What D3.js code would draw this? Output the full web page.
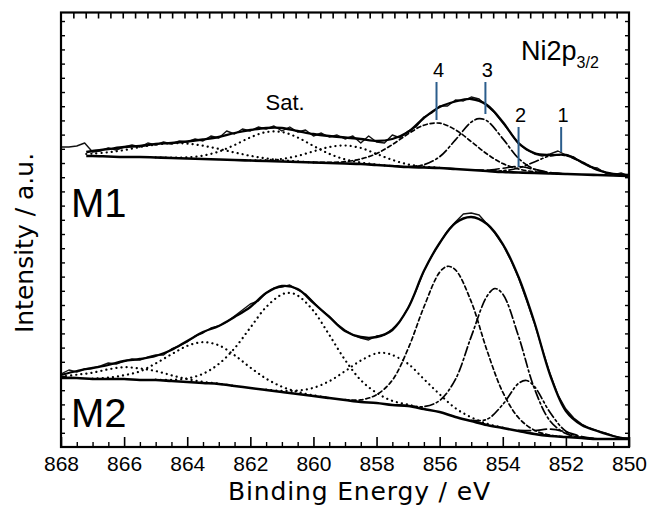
<!DOCTYPE html>
<html>
<head>
<meta charset="utf-8">
<script src="https://cdn.jsdelivr.net/npm/d3@7"></script>
<style>
  body { margin: 0; background: #fff; }
  svg text { font-family: "Liberation Sans", Arial, sans-serif; fill: #000; }
  .title { font-family: "DejaVu Sans", sans-serif; }
</style>
</head>
<body>
<div id="chart"></div>
<script>
// x axis tick labels (binding energy, eV)
const majorTicks = [868, 866, 864, 862, 860, 858, 856, 854, 852, 850]

// ---------- M1 (top spectrum), [eV, intensity a.u.] ----------
const m1Raw = [[868,300],[867.75,300],[867.5,301],[867.25,304],[867,295],[866.75,296],[866.5,299],[866.25,297],
  [866,300],[865.75,302],[865.5,300],[865.25,304],[865,302],[864.75,305],[864.5,303],[864.25,306],[864,305],
  [863.75,308],[863.5,306],[863.25,311],[863,309],[862.75,316],[862.5,313],[862.25,318],[862,316],[861.75,320],
  [861.5,318],[861.25,321],[861,316],[860.75,320],[860.5,315],[860.25,317],[860,311],[859.75,314],[859.5,310],
  [859.25,312],[859,308],[858.75,311],[858.5,304],[858.25,311],[858,305],[857.75,304],[857.5,312],[857.25,309],
  [857,316],[856.75,320],[856.5,330],[856.25,334],[856,341],[855.75,341],[855.5,347],[855.25,346],[855,350],
  [854.75,348],[854.5,341],[854.25,334],[854,324],[853.75,314],[853.5,303],[853.25,297],[853,293],[852.75,291],
  [852.5,293],[852.25,296],[852,292],[851.75,290],[851.5,284],[851.25,280],[851,279],[850.75,274],[850.5,272],
  [850.25,274],[850,271]]
const m1Fit = [[867.2,295],[867,296],[866.5,298],[866,300],[865.5,301],[865,303],[864.5,304],[864,305.5],
  [863.5,307.5],[863,310],[862.5,314],[862,317],[861.5,319],[861,319],[860.5,316],[860,313],[859.5,311],
  [859,309.5],[858.5,308],[858,306],[857.5,308],[857,315],[856.5,329],[856,340],[855.5,345.5],[855,348],
  [854.5,342],[854,325],[853.5,304],[853,294],[852.5,292],[852,292],[851.5,285],[851,277],[850.5,273],[850,272]]
const m1Bg = [[867.2,291],[867,291],[866.5,290.5],[866,290],[865.5,290],[865,289.5],[864.5,289],[864,288.5],
  [863.5,288],[863,287.5],[862.5,287],[862,286.5],[861.5,286],[861,285.5],[860.5,285],[860,284.5],[859.5,284],
  [859,283.5],[858.5,283],[858,282],[857.5,281],[857,280],[856.5,279.5],[856,279],[855.5,278],[855,277],
  [854.5,276],[854,275],[853.5,274.5],[853,274],[852.5,273.5],[852,273],[851.5,272.5],[851,272],[850.5,271.5],[850,271]]
const m1SatA = [[867.2,293],[867,293.3],[866.5,294.7],[866,296.9],[865.5,300],[865,302.4],[864.5,303.7],
  [864,303.4],[863.5,301.3],[863,298.1],[862.5,294.5],[862,291.2],[861.5,288.6],[861,286.8],[860.5,285.6],[860,284.6]]
const m1SatB = [[865,289.6],[864.5,289.3],[864,289.7],[863.5,291.4],[863,295.4],[862.5,302],[862,309.6],
  [861.5,314.9],[861,315],[860.5,309.5],[860,301.1],[859.5,293.2],[859,287.6],[858.5,284.5],[858,282.5],[857.5,281]]
const m1SatC = [[862,286.7],[861.5,286.9],[861,288.1],[860.5,291.1],[860,295.6],[859.5,300],[859,301.5],
  [858.5,299],[858,293.1],[857.5,287.1],[857,282.6],[856.5,280.4],[856,279.2]]
const m1Peak4 = [[860,284.6],[859.5,284.6],[859,285.3],[858.5,288],[858,293.4],[857.5,302.4],[857,313.1],
  [856.5,321.8],[856,323.8],[855.5,317.2],[855,305.4],[854.5,293],[854,283.4],[853.5,278],[853,275.2],[852.5,273.8],[852,273]]
const m1Peak3 = [[857,280.4],[856.5,282.3],[856,290.3],[855.5,307.1],[855,324.9],[854.75,328.3],[854.5,326.1],
  [854,308.4],[853.5,288.6],[853,277.8],[852.5,274.2],[852,273]]
const m1Peak2 = [[855,277],[854.5,276.9],[854,278.7],[853.5,280.5],[853,277.7],[852.5,274.4],[852,273]]
const m1Peak1 = [[854.5,276.2],[854,276.2],[853.5,279],[853,285],[852.5,291.1],[852,291.4],[851.5,285],
  [851,277.5],[850.5,273.1],[850,271.3]]

// ---------- M2 (bottom spectrum) ----------
const m2Raw = [[868,73],[867.75,77],[867.5,75],[867.25,78],[867,79],[866.75,81],[866.5,84],[866.25,83],[866,86],
  [865.75,88],[865.5,87],[865.25,90],[865,92],[864.75,92],[864.5,98],[864.25,101],[864,105],[863.75,111],
  [863.5,114],[863.25,119],[863,121],[862.75,125],[862.5,131],[862.25,137],[862,143],[861.75,146],[861.5,154],
  [861.25,159],[861,160],[860.75,162],[860.5,157],[860.25,153],[860,145],[859.75,137],[859.5,131],[859.25,123],
  [859,117],[858.75,112],[858.5,109],[858.25,107],[858,111],[857.75,112],[857.5,118],[857.25,126],[857,139],
  [856.75,156],[856.5,176],[856.25,191],[856,204],[855.75,216],[855.5,225],[855.25,233],[855,234],[854.75,232],
  [854.5,223],[854.25,214],[854,202],[853.75,187],[853.5,169],[853.25,147],[853,124],[852.75,98],[852.5,73],
  [852.25,52],[852,38],[851.75,29],[851.5,23],[851.25,19],[851,16],[850.75,14],[850.5,11],[850.25,9],[850,9]]
const m2Fit = [[868,72],[867.5,76],[867,79],[866.5,82],[866,86],[865.5,88],[865,91],[864.5,97],[864,106],
  [863.5,115],[863,121],[862.5,130],[862,140],[861.5,154],[861,161],[860.5,158],[860,144],[859.5,130],[859,116],
  [858.5,110],[858,110],[857.5,117],[857,139],[856.5,176],[856,204],[855.5,224],[855,230],[854.5,223],[854,203],
  [853.5,170],[853,125],[852.5,72],[852,36],[851.5,22],[851,16],[850.5,11],[850,8]]
const m2Bg = [[868,69],[867.5,69],[867,68],[866.5,68],[866,68],[865.5,67],[865,67],[864.5,66],[864,65],
  [863.5,64],[863,63],[862.5,61],[862,59],[861.5,57],[861,55],[860.5,53],[860,51],[859.5,49],[859,47],
  [858.5,45],[858,44],[857.5,42],[857,41],[856.5,38],[856,35],[855.5,30],[855,26],[854.5,22],[854,19],
  [853.5,16],[853,13],[852.5,11],[852,10],[851.5,9],[851,8],[850.5,8],[850,8]]
const m2SatA = [[868,70.4],[867.5,72.3],[867,74.3],[866.5,77.7],[866,79.8],[865.5,78.5],[865,76],[864.5,71.7],
  [864,67.9],[863.5,65.2],[863,63.4],[862.5,61]]
const m2SatB = [[867,68.4],[866.5,69.4],[866,71.8],[865.5,75.6],[865,83.6],[864.5,92.7],[864,101.1],[863.5,104.8],
  [863,101.7],[862.5,91.8],[862,79.5],[861.5,68.4],[861,60.3],[860.5,55.1],[860,51.7],[859.5,49]]
const m2SatC = [[865,67.4],[864.5,67.2],[864,68.6],[863.5,73.2],[863,83.1],[862.5,98.7],[862,119.4],[861.5,139.9],
  [861,152.6],[860.75,154],[860.5,151.5],[860,136.2],[859.5,112.2],[859,87.2],[858.5,66.9],[858,54.2],[857.5,46.1],
  [857,42.4],[856.5,38.4]]
const m2SatD = [[861.5,57.3],[861,56.2],[860.5,56.4],[860,59.2],[859.5,65.8],[859,75.8],[858.5,86.4],[858,93.7],
  [857.75,94],[857.5,92],[857,83.2],[856.5,67.9],[856,52.7],[855.5,38.8],[855,29.7],[854.5,23.3],[854,19.4]]
const m2Peak4 = [[859,47.4],[858.5,47.1],[858,52.3],[857.5,66.8],[857,98.3],[856.5,140],[856,174.8],[855.75,180.7],
  [855.5,177.2],[855,145.4],[854.5,96.5],[854,54.8],[853.5,29.2],[853,16.8],[852.5,11.8],[852,10]]
const m2Peak3 = [[857,41.3],[856.5,40.4],[856,46.5],[855.5,67.7],[855,110.4],[854.5,150.8],[854.25,158.5],
  [854,152.9],[853.5,110.7],[853,58.7],[852.5,26],[852,13.4],[851.5,9.5],[851,8]]
const m2Peak2 = [[855,26.7],[854.5,27.7],[854,42.5],[853.5,63.6],[853.25,66.5],[853,60.6],[852.5,34.5],[852,15.7],
  [851.5,9.7],[851,8]]
const m2Peak1 = [[853.5,16.7],[853,16.5],[852.5,17.9],[852,15.1],[851.5,10.5],[851,8.2],[850.5,8]]

// peak markers on M1: name, energy, marker line from / to (intensity)
const peakNames = ["1", "2", "3", "4"]
const peakEnergies = [852.15, 853.5, 854.55, 856.1]
const peakLineTop = [320, 320, 365, 365]
const peakLineBottom = [295, 280, 333, 327]

const width = 648, height = 507
const margin = {top: 12.5, right: 19, bottom: 60, left: 61}

const x = d3.scaleLinear().domain([868, 850]).range([margin.left, width - margin.right])
const y = d3.scaleLinear().domain([0, 434.5]).range([height - margin.bottom, margin.top])

const svg = d3.select("#chart").append("svg")
  .attr("width", width).attr("height", height)

svg.append("clipPath").attr("id", "plot")
  .append("rect")
  .attr("x", x(868)).attr("y", y(434.5))
  .attr("width", x(850) - x(868)).attr("height", y(0) - y(434.5))

const line = d3.line().x(d => x(d[0])).y(d => y(d[1])).curve(d3.curveCatmullRom)
const rawLine = d3.line().x(d => x(d[0])).y(d => y(d[1]))

const g = svg.append("g").attr("clip-path", "url(#plot)")

// fitted components
const dotted = {dash: "0.1,5", w: 2.2}
const shortDash = {dash: "4,3", w: 1.7}
const dashDot = {dash: "9,3,2,3", w: 1.7}
const dashDotDot = {dash: "9,3,2,3,2,3", w: 1.7}
const longDash = {dash: "12,4", w: 1.7}

const comps = [
  [m1SatA, dotted], [m1SatB, dotted], [m1SatC, dotted], [m1Peak4, shortDash],
  [m1Peak3, dashDot], [m1Peak2, longDash], [m1Peak1, dashDotDot],
  [m2SatA, dotted], [m2SatB, dotted], [m2SatC, dotted], [m2SatD, dotted],
  [m2Peak4, shortDash], [m2Peak3, dashDot], [m2Peak2, dashDotDot], [m2Peak1, longDash]
]
g.selectAll("path.comp")
  .data(comps)
  .join("path")
  .attr("class", "comp")
  .attr("d", d => line(d[0]))
  .attr("fill", "none")
  .attr("stroke", "#000")
  .attr("stroke-width", d => d[1].w)
  .attr("stroke-dasharray", d => d[1].dash)
  .attr("stroke-linecap", "round")

// backgrounds
g.selectAll("path.bg")
  .data([m1Bg, m2Bg])
  .join("path")
  .attr("class", "bg")
  .attr("d", line)
  .attr("fill", "none")
  .attr("stroke", "#000")
  .attr("stroke-width", 2.6)

// measured data
g.selectAll("path.raw")
  .data([m1Raw, m2Raw])
  .join("path")
  .attr("class", "raw")
  .attr("d", rawLine)
  .attr("fill", "none")
  .attr("stroke", "#111")
  .attr("stroke-width", 1.4)
  .attr("stroke-linejoin", "round")

// envelopes
g.selectAll("path.fit")
  .data([m1Fit, m2Fit])
  .join("path")
  .attr("class", "fit")
  .attr("d", line)
  .attr("fill", "none")
  .attr("stroke", "#000")
  .attr("stroke-width", 2.3)

// axes
const minorTicks = d3.range(850, 868.01, 0.5).filter(v => v % 2 !== 0)

svg.append("g")
  .attr("transform", `translate(0,${y(0)})`)
  .call(d3.axisBottom(x).tickValues(majorTicks).tickSizeInner(-10).tickSizeOuter(0)
    .tickPadding(9).tickFormat(d3.format("d")))
  .call(a => a.select(".domain").remove())
  .call(a => a.selectAll("line").attr("stroke-width", 1.6))
  .call(a => a.selectAll("text").attr("font-size", 21)
    .attr("font-family", "'Liberation Sans', Arial, sans-serif"))

svg.append("g")
  .attr("transform", `translate(0,${y(0)})`)
  .call(d3.axisBottom(x).tickValues(minorTicks).tickSizeInner(-5).tickSizeOuter(0).tickFormat(""))
  .call(a => a.select(".domain").remove())
  .call(a => a.selectAll("line").attr("stroke-width", 1.4))

// top and side frame ticks (no labels)
const topTick = d3.scaleLinear().domain([0, 46]).range(x.range())
svg.append("g")
  .attr("transform", `translate(0,${y(434.5)})`)
  .call(d3.axisTop(topTick).tickValues(d3.range(1, 46)).tickSizeInner(-6).tickSizeOuter(0).tickFormat(""))
  .call(a => a.select(".domain").remove())
  .call(a => a.selectAll("line").attr("stroke-width", 1.6))

const sideTick = d3.scaleLinear().domain([0, 30.6]).range(y.range())
svg.append("g")
  .attr("transform", `translate(${x(868)},0)`)
  .call(d3.axisLeft(sideTick).tickValues(d3.range(1, 31)).tickSizeInner(-4).tickSizeOuter(0).tickFormat(""))
  .call(a => a.select(".domain").remove())
  .call(a => a.selectAll("line").attr("stroke-width", 1.4))
svg.append("g")
  .attr("transform", `translate(${x(850)},0)`)
  .call(d3.axisRight(sideTick).tickValues(d3.range(1, 31)).tickSizeInner(-4).tickSizeOuter(0).tickFormat(""))
  .call(a => a.select(".domain").remove())
  .call(a => a.selectAll("line").attr("stroke-width", 1.4))

// frame
svg.append("rect")
  .attr("x", x(868)).attr("y", y(434.5))
  .attr("width", x(850) - x(868)).attr("height", y(0) - y(434.5))
  .attr("fill", "none").attr("stroke", "#000").attr("stroke-width", 2.2)

// axis titles
svg.append("text").attr("class", "title")
  .attr("x", 359).attr("y", 500)
  .attr("text-anchor", "middle").attr("font-size", 25)
  .attr("textLength", 262).attr("lengthAdjust", "spacing")
  .text("Binding Energy / eV")

svg.append("text").attr("class", "title")
  .attr("transform", "translate(33,243) rotate(-90)")
  .attr("text-anchor", "middle").attr("font-size", 25)
  .text("Intensity / a.u.")

// sample labels
svg.append("text").attr("x", 71).attr("y", y(230)).attr("font-size", 40).text("M1")
svg.append("text").attr("x", 71).attr("y", y(20)).attr("font-size", 40).text("M2")

// Ni2p3/2
const ni = svg.append("text").attr("x", 521).attr("y", 60).attr("font-size", 27)
ni.append("tspan").text("Ni2p")
ni.append("tspan").attr("font-size", 16).attr("dy", 8).text("3/2")

svg.append("text")
  .attr("x", x(860.9)).attr("y", y(337))
  .attr("text-anchor", "middle").attr("font-size", 22)
  .text("Sat.")

// peak markers
const markers = svg.append("g")
  .selectAll("g")
  .data(peakNames)
  .join("g")
markers.append("line")
  .attr("x1", (d, i) => x(peakEnergies[i])).attr("x2", (d, i) => x(peakEnergies[i]))
  .attr("y1", (d, i) => y(peakLineTop[i])).attr("y2", (d, i) => y(peakLineBottom[i]))
  .attr("stroke", "#2b5d8c").attr("stroke-width", 2)
markers.append("text")
  .attr("x", (d, i) => x(peakEnergies[i]) + 2)
  .attr("y", (d, i) => y(peakLineTop[i]) - 5)
  .attr("text-anchor", "middle").attr("font-size", 20)
  .text(d => d)
</script>
</body>
</html>
